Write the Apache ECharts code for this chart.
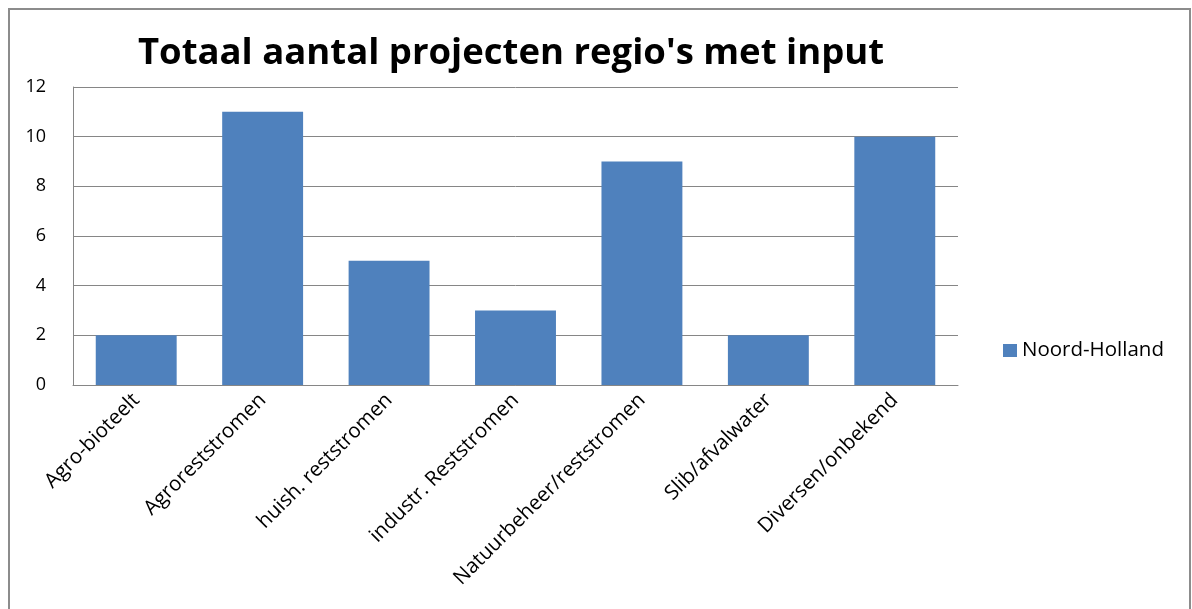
<!DOCTYPE html>
<html>
<head>
<meta charset="utf-8">
<script src="https://cdn.jsdelivr.net/npm/echarts@6/dist/echarts.min.js"></script>
<style>
html,body{margin:0;padding:0;background:#fff;}
#chart{width:1192px;height:609px;}
</style>
</head>
<body>
<div id="chart"></div>
<script>
const titleText = "Totaal aantal projecten regio's met input";
const categories = ["Agro-bioteelt","Agroreststromen","huish. reststromen","industr. Reststromen","Natuurbeheer/reststromen","Slib/afvalwater","Diversen/onbekend"];
const seriesName = "Noord-Holland";
const values = [2, 11, 5, 3, 9, 2, 10];
const yMin = 0, yMax = 12, yStep = 2;

const FONT = "Open Sans";
const chart = echarts.init(document.getElementById('chart'), null, {renderer:'canvas'});
chart.setOption({
  animation: false,
  backgroundColor: '#fff',
  title: {
    text: titleText,
    left: 506, top: 30, textAlign: 'center',
    textStyle: {fontFamily: FONT, fontWeight: 'bold', fontSize: 36.5, color: '#000'}
  },
  legend: {
    data: [seriesName],
    left: 998, top: 335,
    icon: 'rect', itemWidth: 14, itemHeight: 13, itemGap: 7,
    textStyle: {fontFamily: FONT, fontSize: 20.5, color: '#000'}
  },
  grid: {left: 73, right: 234, top: 87, bottom: 224},
  xAxis: {
    type: 'category', data: categories,
    axisLine: {lineStyle: {color: '#868686', width: 1}},
    axisTick: {show: false},
    axisLabel: {rotate: 45, interval: 0, fontFamily: FONT, fontSize: 20.5, color: '#000', margin: 12}
  },
  yAxis: {
    type: 'value', min: yMin, max: yMax, interval: yStep,
    axisLine: {show: true, lineStyle: {color: '#868686'}},
    axisTick: {show: false},
    splitLine: {lineStyle: {color: '#868686'}},
    axisLabel: {fontFamily: FONT, fontSize: 18, color: '#000', margin: 27}
  },
  series: [{
    name: seriesName, type: 'bar', data: values,
    barCategoryGap: '36%',
    itemStyle: {color: '#4F81BD'}
  }],
  graphic: [{
    type: 'rect', shape: {x: 9, y: 9, width: 1181, height: 640},
    style: {fill: 'none', stroke: '#8c8c8c', lineWidth: 2}, silent: true
  }]
});
</script>
</body>
</html>
